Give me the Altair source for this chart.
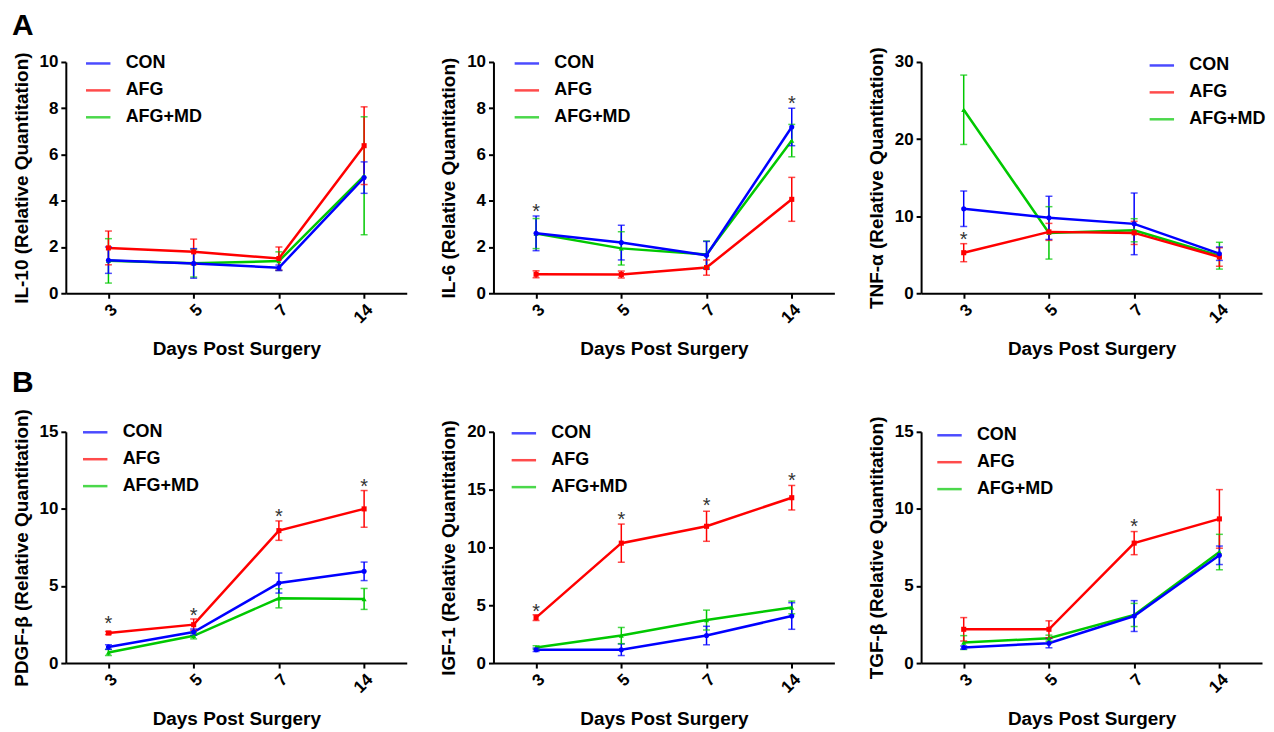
import altair as alt
import pandas as pd

FONT = "Liberation Sans"
DAYS = ["3", "5", "7", "14"]
GROUPS = ["CON", "AFG", "AFG+MD"]
COLORS = ["#0000ff", "#ff0000", "#00c800"]
SHAPES = ["circle", "square", "triangle-up"]
DRAW_ORDER = ["AFG+MD", "AFG", "CON"]

# ---- IL-10 ----
IL10_CON = [1.43, 1.29, 1.10, 5.00]
IL10_CON_ERR = [0.57, 0.64, 0.12, 0.68]
IL10_AFG = [1.96, 1.79, 1.50, 6.38]
IL10_AFG_ERR = [0.73, 0.55, 0.50, 1.68]
IL10_MD = [1.40, 1.30, 1.39, 5.08]
IL10_MD_ERR = [0.96, 0.60, 0.40, 2.55]
IL10_STAR_DAYS = []
IL10_STAR_Y = []

# ---- IL-6 ----
IL6_CON = [2.59, 2.19, 1.64, 7.19]
IL6_CON_ERR = [0.75, 0.75, 0.60, 0.81]
IL6_AFG = [0.82, 0.81, 1.11, 4.06]
IL6_AFG_ERR = [0.15, 0.15, 0.33, 0.95]
IL6_MD = [2.58, 1.94, 1.68, 6.60]
IL6_MD_ERR = [0.65, 0.72, 0.58, 0.70]
IL6_STAR_DAYS = ["3", "14"]
IL6_STAR_Y = [3.70, 8.37]

# ---- TNF-alpha ----
TNF_CON = [10.96, 9.78, 9.00, 5.13]
TNF_CON_ERR = [2.30, 2.80, 4.00, 0.87]
TNF_AFG = [5.26, 7.96, 7.83, 4.70]
TNF_AFG_ERR = [1.17, 1.10, 1.50, 1.20]
TNF_MD = [23.80, 7.83, 8.17, 4.87]
TNF_MD_ERR = [4.50, 3.40, 1.50, 1.74]
TNF_STAR_DAYS = ["3"]
TNF_STAR_Y = [7.40]

# ---- PDGF-beta ----
PDGF_CON = [1.04, 2.01, 5.19, 5.95]
PDGF_CON_ERR = [0.15, 0.20, 0.65, 0.60]
PDGF_AFG = [1.95, 2.49, 8.59, 10.00]
PDGF_AFG_ERR = [0.10, 0.37, 0.63, 1.19]
PDGF_MD = [0.69, 1.77, 4.20, 4.16]
PDGF_MD_ERR = [0.20, 0.20, 0.62, 0.68]
PDGF_STAR_DAYS = ["3", "5", "7", "14"]
PDGF_STAR_Y = [2.80, 3.30, 9.70, 11.65]

# ---- IGF-1 ----
IGF_CON = [1.15, 1.15, 2.38, 4.07]
IGF_CON_ERR = [0.15, 0.50, 0.80, 1.15]
IGF_AFG = [3.93, 10.37, 11.83, 14.30]
IGF_AFG_ERR = [0.25, 1.65, 1.30, 1.06]
IGF_MD = [1.35, 2.38, 3.72, 4.81]
IGF_MD_ERR = [0.15, 0.70, 0.86, 0.55]
IGF_STAR_DAYS = ["3", "5", "7", "14"]
IGF_STAR_Y = [4.73, 12.75, 13.95, 16.10]

# ---- TGF-beta ----
TGF_CON = [1.01, 1.29, 3.05, 6.99]
TGF_CON_ERR = [0.10, 0.30, 1.00, 0.60]
TGF_AFG = [2.19, 2.19, 7.78, 9.35]
TGF_AFG_ERR = [0.76, 0.55, 0.75, 1.90]
TGF_MD = [1.33, 1.61, 3.12, 7.20]
TGF_MD_ERR = [0.45, 0.20, 0.75, 1.15]
TGF_STAR_DAYS = ["7"]
TGF_STAR_Y = [9.07]

W = 342
H = 232


def panel(title, ymax, ystep, series, stars, legend_x, legend_y):
    rows = []
    for g in DRAW_ORDER:
        mean, err = series[g]
        for d, m, e in zip(DAYS, mean, err):
            rows.append({"day": d, "group": g, "mean": m, "lo": max(m - e, 0), "hi": m + e})
    df = pd.DataFrame(rows)
    sdf = pd.DataFrame({"day": stars[0], "y": stars[1]})

    xscale = alt.Scale(type="point", padding=0.5, domain=DAYS)
    x_axis = alt.X(
        "day:N",
        sort=DAYS,
        scale=xscale,
        axis=alt.Axis(title="Days Post Surgery", labelAngle=315, titlePadding=14),
    )
    x = alt.X("day:N", sort=DAYS, scale=xscale)
    yvals = list(range(0, ymax + 1, ystep))
    yscale = alt.Scale(domain=[0, ymax], nice=False)
    y_axis = alt.Y("mean:Q", scale=yscale, axis=alt.Axis(title=title, values=yvals, titlePadding=8))
    cscale = alt.Scale(domain=GROUPS, range=COLORS)
    color = alt.Color(
        "group:N",
        scale=cscale,
        legend=alt.Legend(
            title=None,
            orient="none",
            legendX=legend_x,
            legendY=legend_y,
            symbolType="stroke",
            symbolSize=600,
            symbolStrokeWidth=2.5,
            labelFont=FONT,
            labelFontSize=18,
            labelFontWeight="bold",
            labelColor="black",
            labelOffset=14,
            rowPadding=4,
            padding=0,
        ),
    )
    base = alt.Chart(df)
    line = base.mark_line(strokeWidth=2.5).encode(x=x_axis, y=y_axis, color=color)
    rule = base.mark_rule(strokeWidth=1.5).encode(
        x=x, y=alt.Y("lo:Q", scale=yscale), y2="hi:Q", color=color
    )
    tick_hi = base.mark_tick(thickness=1.5, size=7).encode(
        x=x, y=alt.Y("hi:Q", scale=yscale), color=color
    )
    tick_lo = base.mark_tick(thickness=1.5, size=7).encode(
        x=x, y=alt.Y("lo:Q", scale=yscale), color=color
    )
    layers = [line, rule, tick_hi, tick_lo]
    for g in DRAW_ORDER:
        shp = SHAPES[GROUPS.index(g)]
        layers.append(
            base.transform_filter(alt.datum.group == g)
            .mark_point(filled=True, size=26, opacity=1, shape=shp)
            .encode(x=x, y=alt.Y("mean:Q", scale=yscale), color=color)
        )
    star = alt.Chart(sdf).mark_text(
        text="*", font=FONT, fontSize=20, color="#333333", baseline="alphabetic", dy=10
    ).encode(x=x, y=alt.Y("y:Q", scale=yscale))
    layers.append(star)
    return alt.layer(*layers).properties(width=W, height=H)


p1 = panel("IL-10 (Relative Quantitation)", 10, 2,
           {"CON": (IL10_CON, IL10_CON_ERR), "AFG": (IL10_AFG, IL10_AFG_ERR), "AFG+MD": (IL10_MD, IL10_MD_ERR)},
           (IL10_STAR_DAYS, IL10_STAR_Y), 19, -12)
p2 = panel("IL-6 (Relative Quantitation)", 10, 2,
           {"CON": (IL6_CON, IL6_CON_ERR), "AFG": (IL6_AFG, IL6_AFG_ERR), "AFG+MD": (IL6_MD, IL6_MD_ERR)},
           (IL6_STAR_DAYS, IL6_STAR_Y), 20, -12)
p3 = panel("TNF-α (Relative Quantitation)", 30, 5,
           {"CON": (TNF_CON, TNF_CON_ERR), "AFG": (TNF_AFG, TNF_AFG_ERR), "AFG+MD": (TNF_MD, TNF_MD_ERR)},
           (TNF_STAR_DAYS, TNF_STAR_Y), 228, -10)
p4 = panel("PDGF-β (Relative Quantitation)", 15, 5,
           {"CON": (PDGF_CON, PDGF_CON_ERR), "AFG": (PDGF_AFG, PDGF_AFG_ERR), "AFG+MD": (PDGF_MD, PDGF_MD_ERR)},
           (PDGF_STAR_DAYS, PDGF_STAR_Y), 16, -13)
p5 = panel("IGF-1 (Relative Quantitation)", 20, 5,
           {"CON": (IGF_CON, IGF_CON_ERR), "AFG": (IGF_AFG, IGF_AFG_ERR), "AFG+MD": (IGF_MD, IGF_MD_ERR)},
           (IGF_STAR_DAYS, IGF_STAR_Y), 17, -12)
p6 = panel("TGF-β (Relative Quantitation)", 15, 5,
           {"CON": (TGF_CON, TGF_CON_ERR), "AFG": (TGF_AFG, TGF_AFG_ERR), "AFG+MD": (TGF_MD, TGF_MD_ERR)},
           (TGF_STAR_DAYS, TGF_STAR_Y), 15, -10)


def row(charts, letter, offset):
    return (
        alt.hconcat(*charts, spacing=33)
        .resolve_scale(color="independent")
        .resolve_legend(color="independent")
        .properties(title=alt.TitleParams(letter, anchor="start", fontSize=30, font=FONT,
                                          fontWeight="bold", color="black", offset=offset))
    )


chart = (
    alt.vconcat(row([p1, p2, p3], "A", 6), row([p4, p5, p6], "B", 11), spacing=8)
    .resolve_scale(color="independent")
    .resolve_legend(color="independent")
    .properties(padding={"left": 4, "top": 1, "right": 0, "bottom": 0})
    .configure_view(stroke=None)
    .configure_axis(
        grid=False,
        domainColor="black",
        domainWidth=2,
        tickColor="black",
        tickWidth=2,
        tickSize=5,
        labelFont=FONT,
        labelFontSize=17,
        labelFontWeight="bold",
        labelColor="black",
        titleFont=FONT,
        titleFontSize=19,
        titleFontWeight="bold",
        titleColor="black",
        labelPadding=3,
    )
)

chart.save("out.html", embed_options={"renderer": "svg", "actions": False})
